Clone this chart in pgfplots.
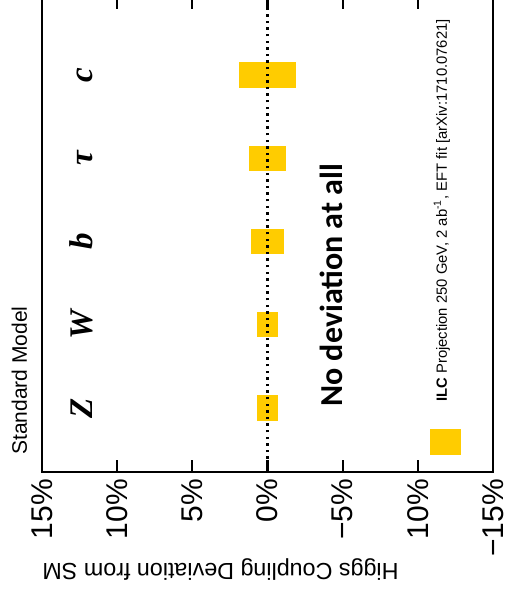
\documentclass[border=0pt]{standalone}
\usepackage{pgfplots}
\pgfplotsset{compat=1.18}
\usepackage{fontspec}
\setmainfont{Liberation Sans}
\newfontfamily\timesf{Liberation Serif}
\newfontfamily\carlito{Carlito}
\definecolor{ilcyellow}{RGB}{255,204,0}
\begin{document}
\begin{tikzpicture}
\useasboundingbox (0pt,0pt) rectangle (255pt,300.5pt);
\clip (0pt,0pt) rectangle (255pt,300.5pt);
\begin{axis}[
  name=ax, at={(21pt,64.5pt)}, anchor=south west,
  scale only axis, width=225.5pt, height=237.5pt,
  x dir=reverse, xmin=-15, xmax=15, ymin=0.2312, ymax=5.937,
  xtick={-15,-10,-5,0,5,10,15},
  xticklabels={−15\%,10\%,−5\%,0\%,5\%,10\%,15\%},
  xtick pos=both, tick align=inside, major tick length=6pt,
  ytick=\empty,
  xticklabel style={rotate=90, anchor=east, font=\fontsize{15}{15}\selectfont},
  axis line style={line width=1.1pt},
  every tick/.style={black, line width=1.1pt},
]
% Z, W, b, tau, c boxes (half-width in %, category position)
\addplot[draw=none, fill=ilcyellow] coordinates {(-0.7,0.847) (0.7,0.847) (0.7,1.153) (-0.7,1.153)} --cycle;
\addplot[draw=none, fill=ilcyellow] coordinates {(-0.7,1.847) (0.7,1.847) (0.7,2.153) (-0.7,2.153)} --cycle;
\addplot[draw=none, fill=ilcyellow] coordinates {(-1.13,2.847) (1.13,2.847) (1.13,3.153) (-1.13,3.153)} --cycle;
\addplot[draw=none, fill=ilcyellow] coordinates {(-1.23,3.847) (1.23,3.847) (1.23,4.153) (-1.23,4.153)} --cycle;
\addplot[draw=none, fill=ilcyellow] coordinates {(-1.9,4.847) (1.9,4.847) (1.9,5.153) (-1.9,5.153)} --cycle;
% legend swatch
\addplot[draw=none, fill=ilcyellow] coordinates {(-10.83,0.435) (-12.9,0.435) (-12.9,0.748) (-10.83,0.748)} --cycle;
% SM line
\addplot[black, line width=1.2pt, dash pattern=on 1.2pt off 2.1pt] coordinates {(0,0.2312) (0,5.937)};
\node[rotate=90, anchor=base, font=\timesf\bfseries\itshape\fontsize{16.5}{18}\selectfont] at (axis cs:11.67,1) {Z};
\node[rotate=90, anchor=base, font=\timesf\bfseries\itshape\fontsize{16.5}{18}\selectfont] at (axis cs:11.67,2) {W};
\node[rotate=90, anchor=base, font=\timesf\bfseries\itshape\fontsize{16.5}{18}\selectfont] at (axis cs:11.67,3) {b};
\node[rotate=90, anchor=base, font=\timesf\bfseries\itshape\fontsize{16.5}{18}\selectfont] at (axis cs:11.67,4) {τ};
\node[rotate=90, anchor=base, font=\timesf\bfseries\itshape\fontsize{16.5}{18}\selectfont] at (axis cs:11.67,5) {c};
\node[rotate=90, anchor=base west, inner sep=0pt, font=\carlito\bfseries\fontsize{16}{18}\selectfont] at (axis cs:-5,1.012) {No deviation at all};
\node[rotate=90, anchor=base west, inner sep=0pt, font=\fontsize{7.4}{9}\selectfont] at (axis cs:-11.93,1.072) {\textbf{ILC} Projection 250 GeV, 2 ab\textsuperscript{-1}, EFT fit [arXiv:1710.07621]};
\end{axis}
\node[rotate=180, anchor=base east, inner sep=0pt, font=\fontsize{11.65}{14}\selectfont] at ([yshift=-45.5pt]ax.south west) {Higgs Coupling Deviation from SM};
\node[rotate=90, anchor=base west, inner sep=0pt, font=\fontsize{10.5}{12}\selectfont] at ([xshift=-7.5pt, yshift=8.5pt]ax.south west) {Standard Model};
\end{tikzpicture}
\end{document}
